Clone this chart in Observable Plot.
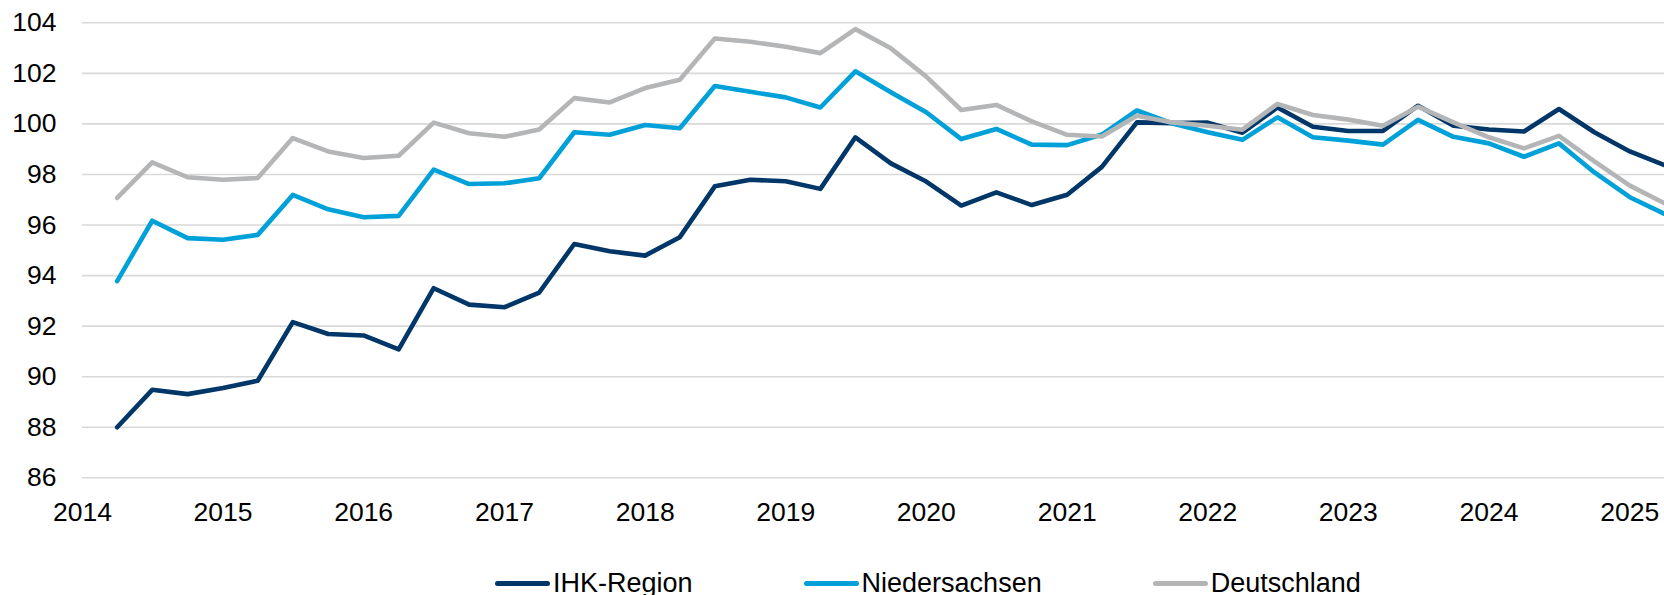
<!DOCTYPE html>
<html>
<head>
<meta charset="utf-8">
<script src="https://cdn.jsdelivr.net/npm/d3@7"></script>
<script src="https://cdn.jsdelivr.net/npm/@observablehq/plot@0.6"></script>
<style>
  html, body { margin: 0; padding: 0; background: #fff; }
  body { font-family: "Liberation Sans", Arial, sans-serif; width: 1664px; }
  #legend { display: flex; align-items: center; height: 30px; padding-left: 495px; gap: 111px; font-size: 27px; color: #000; line-height: 30px; }
  .item { display: flex; align-items: center; }
  .sw { width: 55px; height: 5px; border-radius: 3px; margin-right: 3px; }
</style>
</head>
<body>
<div id="chart"></div>
<div id="legend"></div>
<script>
const quarters = [
  "2014-Q1","2014-Q2","2014-Q3","2014-Q4",
  "2015-Q1","2015-Q2","2015-Q3","2015-Q4",
  "2016-Q1","2016-Q2","2016-Q3","2016-Q4",
  "2017-Q1","2017-Q2","2017-Q3","2017-Q4",
  "2018-Q1","2018-Q2","2018-Q3","2018-Q4",
  "2019-Q1","2019-Q2","2019-Q3","2019-Q4",
  "2020-Q1","2020-Q2","2020-Q3","2020-Q4",
  "2021-Q1","2021-Q2","2021-Q3","2021-Q4",
  "2022-Q1","2022-Q2","2022-Q3","2022-Q4",
  "2023-Q1","2023-Q2","2023-Q3","2023-Q4",
  "2024-Q1","2024-Q2","2024-Q3","2024-Q4",
  "2025-Q1"
];
const ihkRegion = [
  88.00, 89.48, 89.31, 89.55, 89.84, 92.16, 91.69, 91.63, 91.08, 93.50,
  92.85, 92.75, 93.33, 95.25, 94.96, 94.79, 95.52, 97.53, 97.79, 97.73,
  97.43, 99.47, 98.44, 97.72, 96.77, 97.29, 96.79, 97.20, 98.30, 100.06,
  100.03, 100.05, 99.65, 100.65, 99.89, 99.72, 99.72, 100.72, 99.93, 99.78,
  99.70, 100.59, 99.67, 98.91, 98.37
];
const niedersachsen = [
  93.78, 96.17, 95.48, 95.42, 95.61, 97.19, 96.62, 96.31, 96.36, 98.19,
  97.62, 97.65, 97.85, 99.67, 99.57, 99.96, 99.83, 101.50, 101.27, 101.05,
  100.65, 102.08, 101.25, 100.46, 99.40, 99.80, 99.18, 99.16, 99.58, 100.53,
  100.02, 99.67, 99.37, 100.26, 99.47, 99.34, 99.18, 100.16, 99.49, 99.23,
  98.70, 99.23, 98.08, 97.10, 96.44
];
const deutschland = [
  97.07, 98.48, 97.89, 97.79, 97.86, 99.44, 98.91, 98.65, 98.74, 100.05,
  99.63, 99.49, 99.78, 101.02, 100.85, 101.42, 101.75, 103.38, 103.25, 103.05,
  102.80, 103.75, 102.99, 101.87, 100.55, 100.75, 100.10, 99.57, 99.50, 100.32,
  100.06, 99.93, 99.77, 100.79, 100.35, 100.17, 99.93, 100.68, 100.06, 99.47,
  99.03, 99.53, 98.52, 97.56, 96.86
];
const seriesNames = ["IHK-Region", "Niedersachsen", "Deutschland"];
const seriesColors = ["#003668", "#00a0d8", "#b4b5b7"];
const yTicks = [86, 88, 90, 92, 94, 96, 98, 100, 102, 104];

// quarter end -> first day of following month
const toDate = (q) => {
  const [y, qq] = q.split("-Q");
  return new Date(Date.UTC(+y, (+qq) * 3, 1));
};
const valueSets = [ihkRegion, niedersachsen, deutschland];
const data = [];
seriesNames.forEach((name, si) => {
  quarters.forEach((q, i) => data.push({series: name, date: toDate(q), value: valueSets[si][i]}));
});

const W = 1664, H = 568;
const chart = Plot.plot({
  width: W,
  height: H,
  marginLeft: 82,
  marginRight: 0,
  marginTop: 22.3,
  marginBottom: H - 477.3,
  style: {fontFamily: '"Liberation Sans", Arial, sans-serif', fontSize: "26.5px", color: "#000", background: "#fff", overflow: "visible"},
  x: {type: "utc", domain: [new Date(Date.UTC(2014, 0, 1)), new Date(Date.UTC(2025, 3, 1))]},
  y: {domain: [86, 104]},
  color: {domain: seriesNames, range: seriesColors},
  marks: [
    Plot.gridY(yTicks, {stroke: "#d9d9d9", strokeOpacity: 1, strokeWidth: 1.6}),
    Plot.axisY(yTicks, {tickSize: 0, tickPadding: 26, label: null, fontSize: "26.5px", fill: "#000"}),
    Plot.axisX({ticks: d3.utcYear.every(1), tickFormat: d3.utcFormat("%Y"), tickSize: 0, tickPadding: 24, label: null, fontSize: "26.5px", fill: "#000"}),
    Plot.line(data, {x: "date", y: "value", z: "series", stroke: "series", strokeWidth: 4.6, strokeLinejoin: "round", strokeLinecap: "round", clip: true})
  ]
});
document.getElementById("chart").appendChild(chart);

const legend = document.getElementById("legend");
seriesNames.forEach((name, i) => {
  const item = document.createElement("div");
  item.className = "item";
  const sw = document.createElement("span");
  sw.className = "sw";
  sw.style.background = seriesColors[i];
  const t = document.createElement("span");
  t.textContent = name;
  item.appendChild(sw);
  item.appendChild(t);
  legend.appendChild(item);
});
</script>
</body>
</html>
